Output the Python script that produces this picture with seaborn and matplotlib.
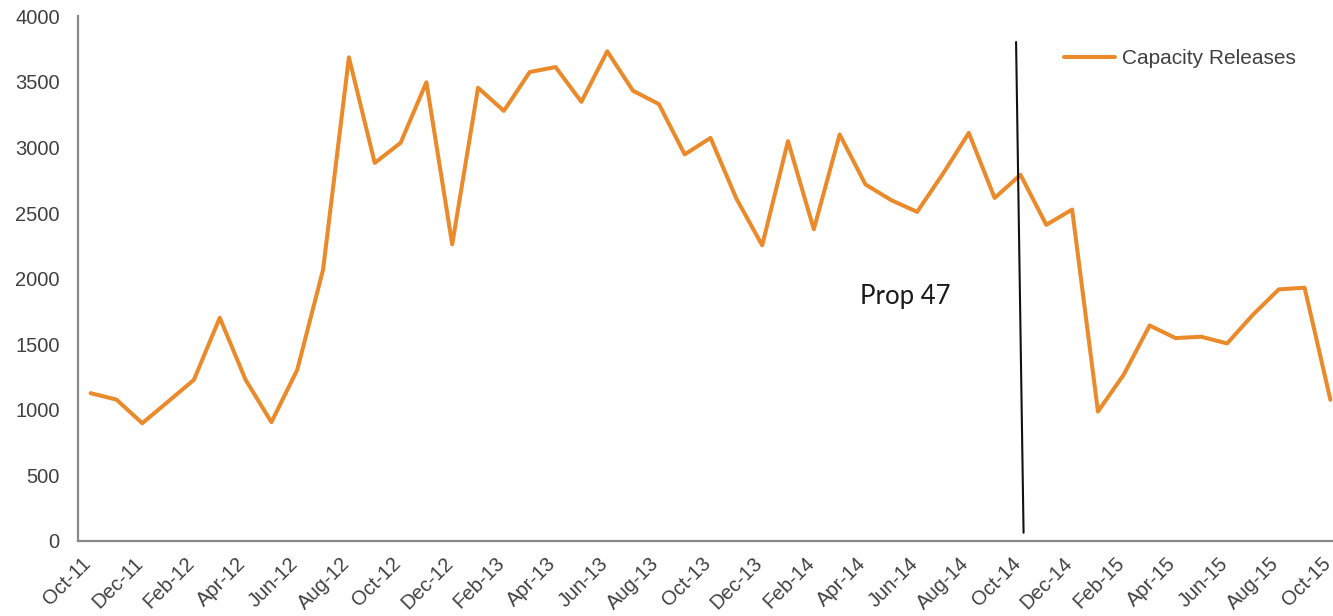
import numpy as np
import pandas as pd
import matplotlib
matplotlib.use("Agg")
import matplotlib.pyplot as plt
import matplotlib.transforms as mtransforms
import seaborn as sns

# ---------------- data ----------------
months = [
    "Oct-11", "Nov-11", "Dec-11", "Jan-12", "Feb-12", "Mar-12", "Apr-12", "May-12",
    "Jun-12", "Jul-12", "Aug-12", "Sep-12", "Oct-12", "Nov-12", "Dec-12", "Jan-13",
    "Feb-13", "Mar-13", "Apr-13", "May-13", "Jun-13", "Jul-13", "Aug-13", "Sep-13",
    "Oct-13", "Nov-13", "Dec-13", "Jan-14", "Feb-14", "Mar-14", "Apr-14", "May-14",
    "Jun-14", "Jul-14", "Aug-14", "Sep-14", "Oct-14", "Nov-14", "Dec-14", "Jan-15",
    "Feb-15", "Mar-15", "Apr-15", "May-15", "Jun-15", "Jul-15", "Aug-15", "Sep-15",
    "Oct-15",
]
capacity_releases = [
    1127, 1078, 898, 1063, 1229, 1702, 1229, 906,
    1305, 2069, 3687, 2882, 3035, 3497, 2261, 3455,
    3279, 3575, 3613, 3348, 3733, 3432, 3331, 2947,
    3073, 2611, 2254, 3048, 2376, 3099, 2718, 2598,
    2509, 2800, 3111, 2615, 2792, 2410, 2527, 987,
    1269, 1643, 1547, 1557, 1506, 1725, 1918, 1931,
    1076,
]
series_name = "Capacity Releases"
y_ticks = [0, 500, 1000, 1500, 2000, 2500, 3000, 3500, 4000]

# annotation (Prop 47 marker line, hand drawn, slightly slanted)
prop47_line_x = [35.83, 36.12]
prop47_line_y = [3804, 63]
prop47_label = "Prop 47"

# ---------------- style ----------------
sns.set_style("white")
plt.rcParams["font.family"] = ["Liberation Sans", "DejaVu Sans"]

ORANGE = "#EB8A2B"
AXIS_GRAY = "#898989"
TEXT_GRAY = "#404040"

fig = plt.figure(figsize=(13.33, 6.16), dpi=100)
ax = fig.add_axes([77.7 / 1333, 75 / 616, 1 - 77.7 / 1333, (541 - 16.3) / 616])

df = pd.DataFrame({"idx": np.arange(len(months)), "value": capacity_releases,
                   "series": series_name})
sns.lineplot(data=df, x="idx", y="value", hue="series", palette=[ORANGE],
             linewidth=2.9, ax=ax, legend=True)
for ln in ax.lines:
    ln.set_solid_joinstyle("round")
    ln.set_solid_capstyle("round")

ax.set_xlim(-0.5, 48.1)
ax.set_ylim(0, 4000)
ax.set_xlabel("")
ax.set_ylabel("")

ax.tick_params(axis="x", direction="out", length=5, width=1.3, color=AXIS_GRAY, pad=9)
ax.tick_params(axis="y", direction="out", length=5, width=1.3, color=AXIS_GRAY, pad=8)

# x ticks between categories, every 2 months
tick_pos = np.arange(0, len(months), 2) - 0.5
ax.set_xticks(tick_pos)
ax.set_xticklabels([months[i] for i in range(0, len(months), 2)],
                   rotation=45, ha="right", va="center", rotation_mode="anchor",
                   fontsize=14.5, color=TEXT_GRAY)
offset = mtransforms.ScaledTranslation(0.105, 0.0, fig.dpi_scale_trans)
for lab in ax.get_xticklabels():
    lab.set_transform(lab.get_transform() + offset)

ax.set_yticks(y_ticks)
ax.set_yticklabels([str(v) for v in y_ticks], fontsize=14.5, color=TEXT_GRAY)

for side in ["top", "right"]:
    ax.spines[side].set_visible(False)
for side in ["left", "bottom"]:
    ax.spines[side].set_color(AXIS_GRAY)
    ax.spines[side].set_linewidth(1.6)

# Prop 47 marker
ax.plot(prop47_line_x, prop47_line_y, color="#111111", linewidth=1.5, zorder=3)
ax.text(29.79, 1865, prop47_label, fontsize=18.5, color="#1a1a1a",
        ha="left", va="center", family=["Lato", "DejaVu Sans"])

# legend
handles, labels = ax.get_legend_handles_labels()
ax.legend(handles, labels, loc="center left",
          bbox_to_anchor=(1064 / 1333, 1 - 59 / 616), bbox_transform=fig.transFigure,
          frameon=False, fontsize=15, handlelength=2.45, handletextpad=0.35,
          borderpad=0, borderaxespad=0, labelcolor=TEXT_GRAY)

fig.savefig("out.png", dpi=100)
